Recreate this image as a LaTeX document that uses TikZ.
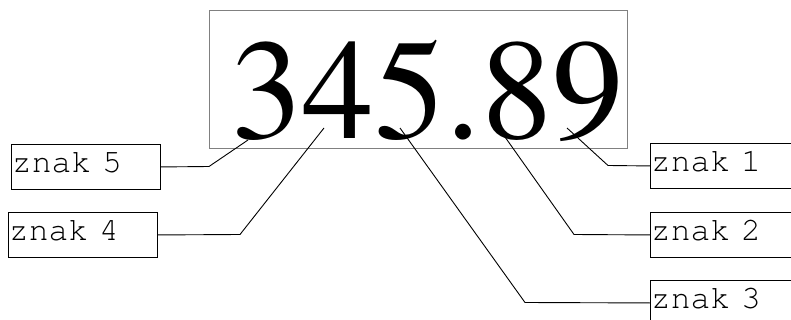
\documentclass[tikz,border=0pt]{standalone}
\usepackage{fontspec}
\newfontfamily\numfont{TeX Gyre Termes}
\newfontfamily\labfont{TeX Gyre Cursor}
\begin{document}
\begin{tikzpicture}[x=1pt,y=-1pt,
  lab/.style={draw, rectangle, line width=0.9pt, minimum width=149pt, minimum height=45pt,
    text width=148pt, align=left, inner xsep=0.5pt, inner ysep=0pt,
    text height=20pt, text depth=8pt,
    font=\labfont\fontsize{33}{33}\selectfont, anchor=north west},
  conn/.style={line width=0.9pt}]
\clip (0,0) rectangle (791,320);
\node[draw=gray, line width=0.9pt, minimum width=418pt, minimum height=138pt, anchor=north west, inner sep=0pt] (disp) at (209,10) {};
\node[anchor=base west, inner sep=0pt, font=\numfont\fontsize{143}{143}\selectfont] (num) at (231,139) {345.89};
\node[lab] (z5) at (11,144) {znak 5};
\node[lab] (z4) at (8,212) {znak 4};
\node[lab] (z1) at (650,143) {znak 1};
\node[lab] (z2) at (650,212) {znak 2};
\node[lab] (z3) at (650,280) {znak 3};
\coordinate (p5) at (248,140);
\coordinate (p4) at (324,128);
\coordinate (p3) at (400,128);
\coordinate (p2) at (505,137);
\coordinate (p1) at (567,128);
\coordinate (b5) at (209,166.5);
\coordinate (b4) at (240,234.5);
\coordinate (b3) at (525,302.5);
\coordinate (b2) at (574,234.5);
\coordinate (b1) at (608,165.5);
\draw[conn] (z5.east) -- (b5) -- (p5);
\draw[conn] (z4.east) -- (b4) -- (p4);
\draw[conn] (z3.west) -- (b3) -- (p3);
\draw[conn] (z2.west) -- (b2) -- (p2);
\draw[conn] (z1.west) -- (b1) -- (p1);
\end{tikzpicture}
\end{document}
